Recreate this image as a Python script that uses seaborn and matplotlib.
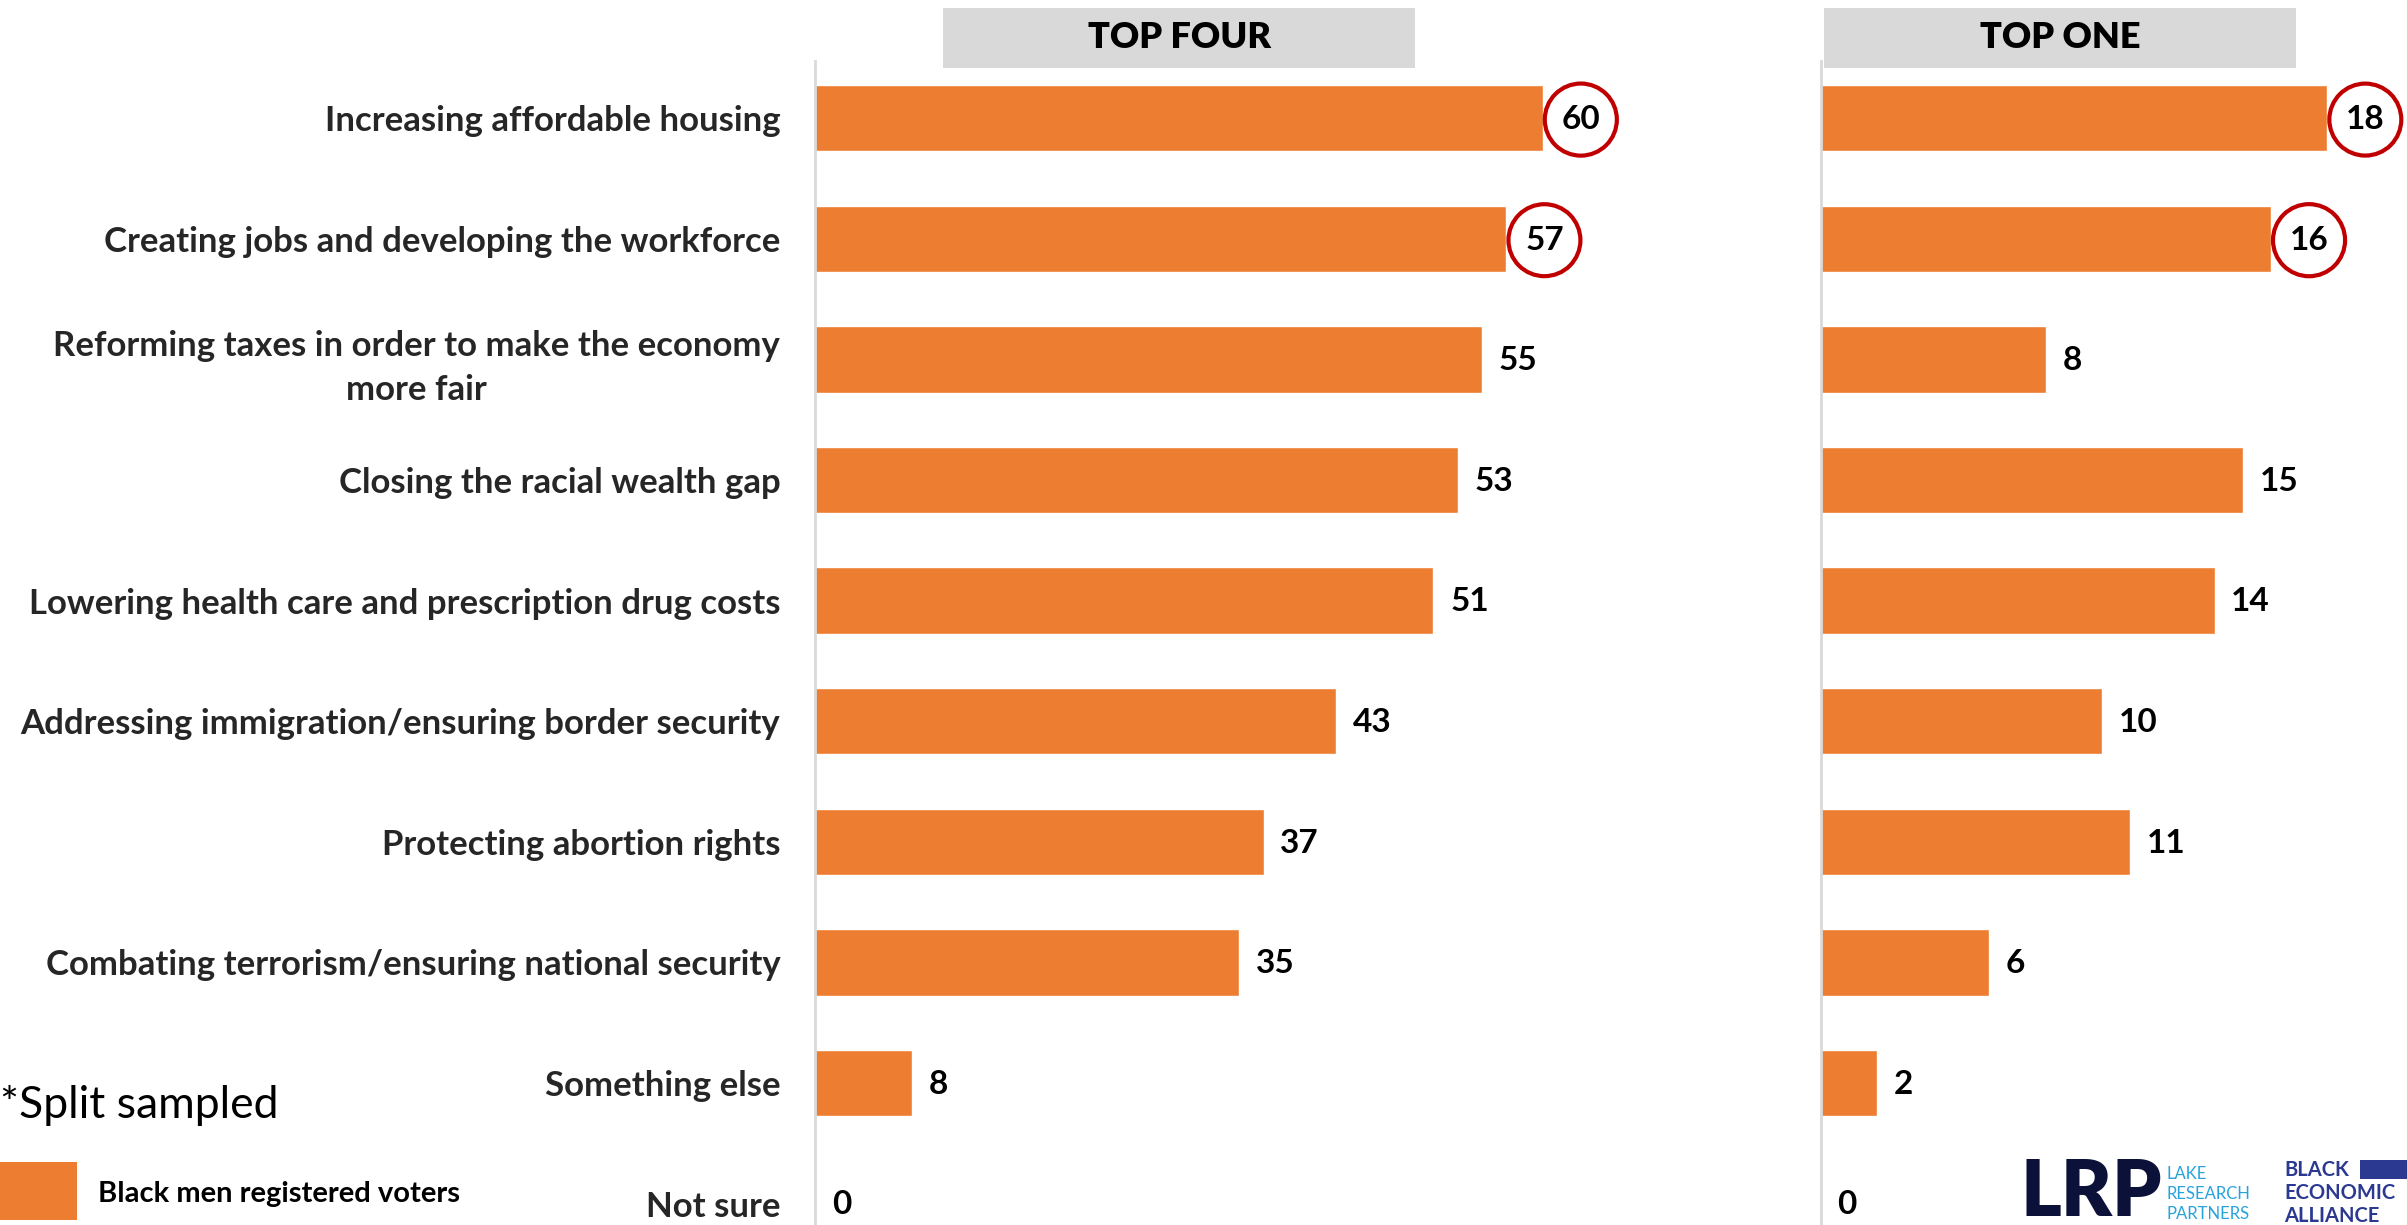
import matplotlib
matplotlib.use("Agg")
import matplotlib.pyplot as plt
from matplotlib.patches import Rectangle
import seaborn as sns
import pandas as pd

# ---- data ----
items = [
    "Increasing affordable housing",
    "Creating jobs and developing the workforce",
    "Reforming taxes in order to make the economy\nmore fair",
    "Closing the racial wealth gap",
    "Lowering health care and prescription drug costs",
    "Addressing immigration/ensuring border security",
    "Protecting abortion rights",
    "Combating terrorism/ensuring national security",
    "Something else",
    "Not sure",
]
top_four = [60, 57, 55, 53, 51, 43, 37, 35, 8, 0]
top_one = [18, 16, 8, 15, 14, 10, 11, 6, 2, 0]
circled_four = [60, 57]
circled_one = [18, 16]
panel_titles = ["TOP FOUR", "TOP ONE"]
legend_label = "Black men registered voters"
footnote = "*Split sampled"

df = pd.DataFrame({"item": items, "top_four": top_four, "top_one": top_one})

ORANGE = "#ED7D31"
RED = "#C00000"
GREY = "#D9D9D9"

sns.set_theme(style="white")
plt.rcParams["font.family"] = ["Lato", "DejaVu Sans"]

W, H = 2407, 1225
fig = plt.figure(figsize=(W / 100, H / 100), dpi=100)

row_top, row_step = 118.2, 120.6
axis_top = 61
y_lo = -(row_top - axis_top) / row_step
y_hi = (len(items) - 1) + (H - (row_top + (len(items) - 1) * row_step)) / row_step

def make_axes(x0, px_per_unit, xmax):
    return fig.add_axes([x0 / W, 0, px_per_unit * xmax / W, (H - axis_top) / H])

ax1 = make_axes(815, 12.127, 72)
ax2 = make_axes(1820.6, 28.14, 20.8)

VAL_SIZE = 24
panels = [(ax1, "top_four", circled_four, 72), (ax2, "top_one", circled_one, 20.8)]
for ax, col, circled, xmax in panels:
    sns.barplot(data=df, y="item", x=col, order=items, color=ORANGE,
                saturation=1, width=0.55, orient="h", ax=ax)
    ax.set_xlim(0, xmax)
    ax.set_ylim(y_hi, y_lo)
    ax.set_xlabel("")
    ax.set_ylabel("")
    ax.xaxis.set_visible(False)
    for s in ["top", "right", "bottom"]:
        ax.spines[s].set_visible(False)
    ax.spines["left"].set_color(GREY)
    ax.spines["left"].set_linewidth(2)
    ax.patch.set_alpha(0)

    for i, v in enumerate(df[col]):
        if v in circled and i < 2:
            ax.annotate(str(v), xy=(v, i), xytext=(27.5, -1), textcoords="offset points",
                        ha="center", va="center", fontsize=VAL_SIZE, fontweight="bold",
                        color="black", annotation_clip=False,
                        bbox=dict(boxstyle="circle,pad=0.5", fc="white", ec=RED, lw=3))
        else:
            ax.annotate(str(v), xy=(v, i), xytext=(12, -1), textcoords="offset points",
                        ha="left", va="center", fontsize=VAL_SIZE, fontweight="bold",
                        color="black", annotation_clip=False)

ax1.tick_params(axis="y", length=0, pad=25, labelsize=25)
for lab in ax1.get_yticklabels():
    lab.set_fontweight("bold")
    lab.set_multialignment("center")
    lab.set_linespacing(1.45)
ax2.set_yticklabels([])
ax2.tick_params(axis="y", length=0)

# panel headers
for (x0, x1), title in zip([(943, 1415), (1824, 2296)], panel_titles):
    fig.patches.append(Rectangle((x0 / W, 1 - 68 / H), (x1 - x0) / W, 60 / H,
                                 transform=fig.transFigure, fc=GREY, ec="none"))
    fig.text((x0 + x1) / 2 / W, 1 - 37 / H, title, ha="center", va="center",
             fontsize=26, fontweight="heavy", color="black")

# footnote and legend
fig.text(0, 1 - 1105 / H, footnote, ha="left", va="center", fontsize=32, color="black")
fig.patches.append(Rectangle((0, 1 - 1220 / H), 77 / W, 58 / H,
                             transform=fig.transFigure, fc=ORANGE, ec="none"))
fig.text(98 / W, 1 - 1194 / H, legend_label, ha="left", va="center",
         fontsize=21, fontweight="bold", color="black")

# logos
fig.text(2020 / W, 1 - 1194 / H, "LRP", ha="left", va="center", fontsize=56,
         fontweight="heavy", color="#0B1138")
for k, word in enumerate(["LAKE", "RESEARCH", "PARTNERS"]):
    fig.text(2166 / W, 1 - (1174 + 20 * k) / H, word, ha="left", va="center",
             fontsize=12, color="#29A3DC")
for k, word in enumerate(["BLACK", "ECONOMIC", "ALLIANCE"]):
    fig.text(2284 / W, 1 - (1170 + 23 * k) / H, word, ha="left", va="center",
             fontsize=14.5, fontweight="bold", color="#2B3990")
fig.patches.append(Rectangle((2360 / W, 1 - 1179 / H), 50 / W, 19 / H,
                             transform=fig.transFigure, fc="#2B3990", ec="none"))

fig.savefig("out.png", dpi=100, facecolor="white")
